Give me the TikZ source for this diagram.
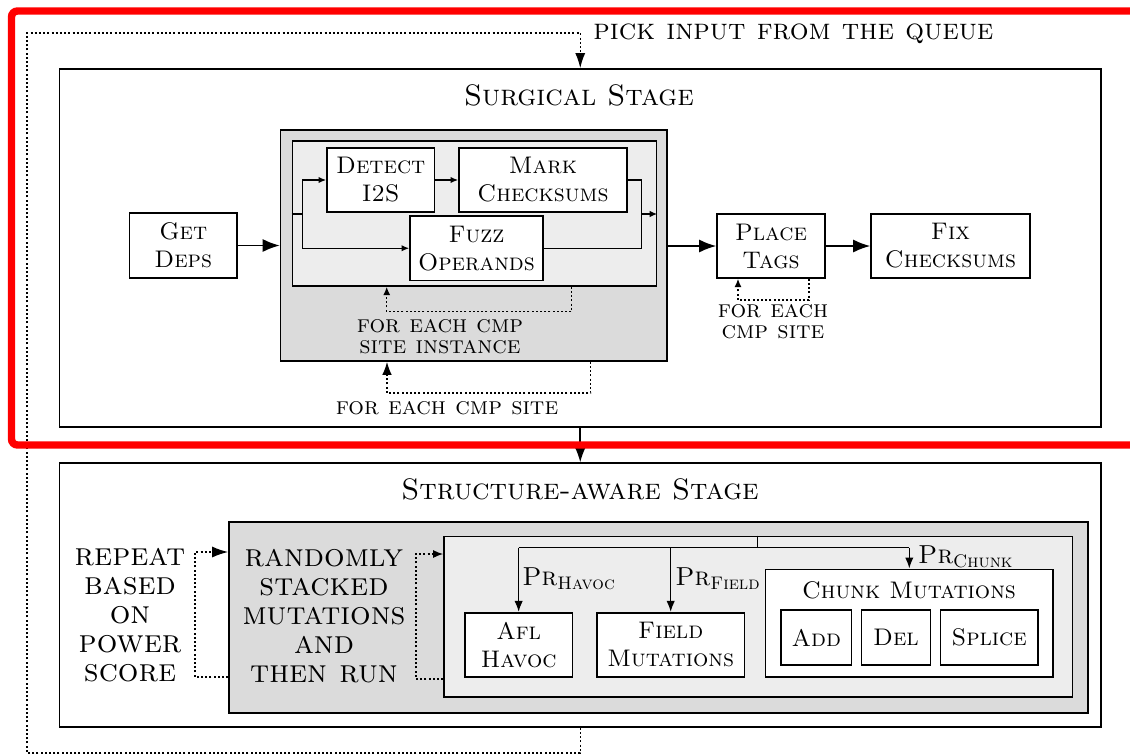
\documentclass[tikz,border=0pt]{standalone}
\usetikzlibrary{arrows.meta}
\definecolor{darkfill}{gray}{0.86}
\definecolor{lightfill}{gray}{0.93}
\definecolor{framered}{rgb}{1,0,0}
\begin{document}
\begin{tikzpicture}[x=0.5pt,y=-0.5pt,
  stagebox/.style={draw, line width=0.8pt, fill=white, inner sep=0pt},
  darkbox/.style={draw, line width=0.8pt, fill=darkfill, inner sep=0pt},
  lightbox/.style={draw, line width=0.8pt, fill=lightfill, inner sep=0pt},
  opbox/.style={draw, line width=0.8pt, fill=white, inner sep=0pt, align=center,
    font=\fontsize{12}{14}\selectfont\scshape},
  titletext/.style={inner sep=0pt, font=\fontsize{14.8}{17}\selectfont\scshape},
  note/.style={inner sep=0pt, align=center, font=\fontsize{12.3}{10.6}\selectfont\scshape},
  bignote/.style={inner sep=0pt, align=center, font=\fontsize{16.2}{14.5}\selectfont\scshape},
  prlabel/.style={inner sep=0pt, anchor=base west, font=\fontsize{13}{15}\selectfont\scshape},
  dots/.style={line width=0.75pt, dash pattern=on 1pt off 1.1pt},
  bigarrow/.style={-{Latex[length=8.5pt,width=6.5pt]}, line width=0.8pt},
  smallarrow/.style={-{Latex[length=3.8pt,width=3.2pt]}, line width=0.7pt},
  treearrow/.style={-{Latex[length=5.5pt,width=4.2pt]}, line width=0.7pt}
]
\useasboundingbox (0,0) rectangle (1130,755);
\clip (0,0) rectangle (1130,755);

% ---------- Surgical stage ----------
\node[stagebox, minimum width=520.75pt, minimum height=179pt] (surg) at (580.25,248) {};
\node[titletext, anchor=base] (surgtitle) at (579,105) {Surgical Stage};

\node[darkbox, minimum width=193.25pt, minimum height=115.5pt] (darkS) at (473.75,245.5) {};
\node[lightbox, minimum width=182pt, minimum height=72.5pt] (lightS) at (474.5,213.5) {};

\node[opbox, minimum width=53.75pt, minimum height=32pt] (detect) at (380.75,180) {Detect\\I2S};
\node[opbox, minimum width=84pt, minimum height=32pt] (mark) at (543,180) {Mark\\Checksums};
\node[opbox, minimum width=66.5pt, minimum height=32.25pt] (fuzz) at (476.5,248.25) {Fuzz\\Operands};

\node[opbox, minimum width=53.75pt, minimum height=32.5pt] (getdeps) at (183.25,245.5) {Get\\Deps};
\node[opbox, minimum width=54pt, minimum height=32pt] (place) at (771,246) {Place\\Tags};
\node[opbox, minimum width=79.5pt, minimum height=32pt] (fix) at (950.5,246) {Fix\\Checksums};

\coordinate (jl) at (302.7,214);
\coordinate (jr) at (641.7,214);
\draw[line width=0.7pt] (lightS.west |- jl) -- (jl);
\draw[smallarrow] (jl) |- (detect.west);
\draw[smallarrow] (jl) |- (fuzz.west);
\draw[smallarrow] (detect) -- (mark);
\draw[line width=0.7pt] (mark.east) -| (jr);
\draw[line width=0.7pt] (fuzz.east) -| (jr);
\draw[smallarrow] (jr) -- (lightS.east |- jr);

\draw[bigarrow] (getdeps.east) -- (darkS.west |- getdeps.east);
\draw[bigarrow] (darkS.east |- place.west) -- (place.west);
\draw[bigarrow] (place) -- (fix);

% loops
\coordinate (li1) at (571.7,311.7);
\coordinate (li2) at (386.7,311.7);
\draw[dots, -{Latex[length=4.2pt,width=3.6pt]}] (lightS.south -| li1) -- (li1) -- (li2) -- (lightS.south -| li2);
\node[note] (lbinst) at (440,337) {for each cmp\\site instance};

\coordinate (lo1) at (590.7,393);
\coordinate (lo2) at (387,393);
\draw[dots, -{Latex[length=6.5pt,width=4.8pt]}] (darkS.south -| lo1) -- (lo1) -- (lo2) -- (darkS.south -| lo2);
\node[note] (lbsite) at (447,408) {for each cmp site};

\coordinate (lp1) at (809,300);
\coordinate (lp2) at (738,300);
\draw[dots, -{Latex[length=4.2pt,width=3.6pt]}] (place.south -| lp1) -- (lp1) -- (lp2) -- (place.south -| lp2);
\node[note] (lbplace) at (773,322) {for each\\cmp site};

% ---------- Structure-aware stage ----------
\node[stagebox, minimum width=520.75pt, minimum height=132pt] (struct) at (580.25,595) {};
\node[titletext, anchor=base] (structtitle) at (580,499) {Structure-aware Stage};

\draw[bigarrow] (surg.south) -- (struct.north);

\node[darkbox, minimum width=429.5pt, minimum height=95.5pt] (darkS2) at (658.5,617.2) {};
\node[lightbox, minimum width=314.3pt, minimum height=80.35pt] (lightS2) at (758.3,616.65) {};

\node[bignote] (repeat) at (130,615) {repeat\\based\\on\\power\\score};
\node[bignote] (random) at (324,616) {randomly\\stacked\\mutations\\and\\then run};

\coordinate (r1) at (195,677);
\coordinate (r2) at (195,552);
\draw[dots, -{Latex[length=8pt,width=5.5pt]}] (darkS2.west |- r1) -- (r1) -- (r2) -- (darkS2.west |- r2);
\coordinate (s1) at (416,679);
\coordinate (s2) at (416,554);
\draw[dots, -{Latex[length=5pt,width=4pt]}] (lightS2.west |- s1) -- (s1) -- (s2) -- (lightS2.west |- s2);

\node[opbox, minimum width=53.95pt, minimum height=32pt] (afl) at (518.65,644.7) {Afl\\Havoc};
\node[opbox, minimum width=73.7pt, minimum height=32pt] (field) at (670.7,644.7) {Field\\Mutations};
\node[stagebox, minimum width=143.7pt, minimum height=53.7pt] (chunk) at (909.3,623) {};
\node[inner sep=0pt, font=\fontsize{12}{14}\selectfont\scshape] (chunktitle) at (909,590) {Chunk Mutations};
\node[opbox, minimum width=35.25pt, minimum height=27.5pt] (add) at (816.25,637.5) {Add};
\node[opbox, minimum width=34.45pt, minimum height=27.5pt] (del) at (895.95,637.5) {Del};
\node[opbox, minimum width=48.8pt, minimum height=27.5pt] (splice) at (989.2,637.5) {Splice};

\coordinate (trunk) at (757.4,547.7);
\coordinate (tl) at (518.65,547.7);
\coordinate (tr) at (909.3,547.7);
\draw[line width=0.7pt] (lightS2.north -| trunk) -- (trunk);
\draw[line width=0.7pt] (tl) -- (tr);
\draw[treearrow] (tl) -- (afl.north);
\draw[treearrow] (field.north |- trunk) -- (field.north);
\draw[treearrow] (tr) -- (chunk.north);

\node[prlabel] (prh) at (522,585) {Pr\textsubscript{Havoc}};
\node[prlabel] (prf) at (675,585) {Pr\textsubscript{Field}};
\node[prlabel] (prc) at (917.8,563) {Pr\textsubscript{Chunk}};

% ---------- outer queue loop ----------
\coordinate (q1) at (580.25,753);
\coordinate (q2) at (27,753);
\coordinate (q3) at (27,33);
\coordinate (q4) at (580.25,33);
\draw[dots, -{Latex[length=7.5pt,width=5pt]}] (struct.south) -- (q1) -- (q2) -- (q3) -- (q4) -- (surg.north);
\node[inner sep=0pt, anchor=west, font=\fontsize{14.8}{17}\selectfont\scshape] (pick) at (593,33.5) {pick input from the queue};

% ---------- red highlight frame ----------
\draw[framered, line width=3.7pt, rounded corners=3pt] (1140,11) -- (11.5,11) -- (11.5,445) -- (1140,445);
\end{tikzpicture}
\end{document}
